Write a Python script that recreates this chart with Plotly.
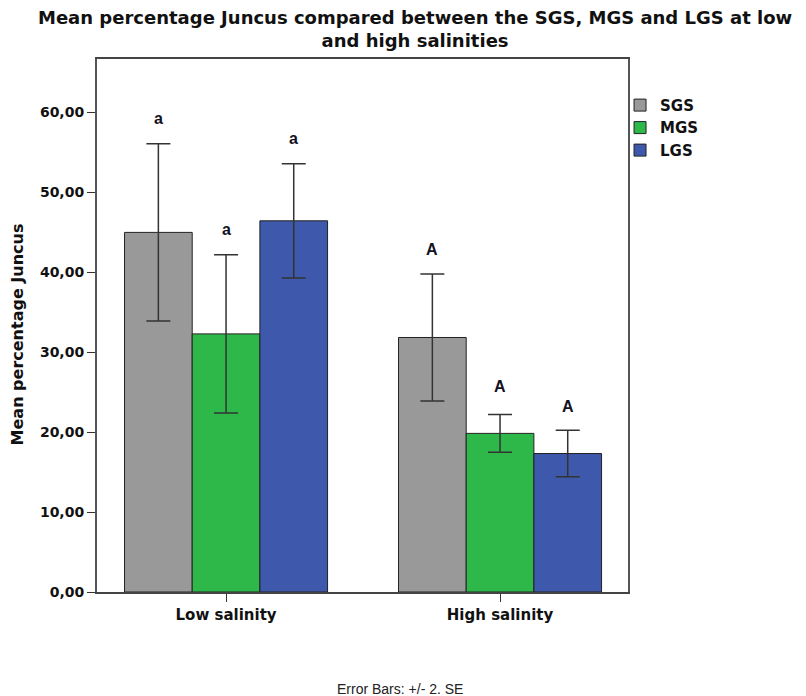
import plotly.graph_objects as go

categories = ["Low salinity", "High salinity"]
groups = ["SGS", "MGS", "LGS"]
means = {
    "SGS": [45.0, 31.85],
    "MGS": [32.3, 19.85],
    "LGS": [46.45, 17.33],
}
errors = {
    "SGS": [11.1, 7.95],
    "MGS": [9.9, 2.35],
    "LGS": [7.15, 2.9],
}
letters = {
    "SGS": ["a", "A"],
    "MGS": ["a", "A"],
    "LGS": ["a", "A"],
}
letter_y = {
    "SGS": [59.3, 42.9],
    "MGS": [45.4, 25.7],
    "LGS": [56.8, 23.2],
}
colors = {"SGS": "#999999", "MGS": "#2fb84a", "LGS": "#3e59ab"}
y_ticks = [0, 10, 20, 30, 40, 50, 60]
y_ticktext = ["0,00", "10,00", "20,00", "30,00", "40,00", "50,00", "60,00"]

FONT = "Liberation Sans, Arial, sans-serif"
BFONT = "DejaVu Sans, Verdana, sans-serif"

fig = go.Figure()
xpos = list(range(len(categories)))
for g in groups:
    fig.add_trace(go.Bar(
        name="<b>%s</b>" % g, x=xpos, y=means[g],
        marker=dict(color=colors[g], line=dict(color="#222222", width=1)),
        error_y=dict(type="data", array=errors[g], visible=True,
                     color="#333333", thickness=1.5, width=12),
    ))

bar_w = (1 - 0.259) / len(groups)
for gi, g in enumerate(groups):
    off = (gi - 1) * bar_w
    for ci in range(len(categories)):
        fig.add_annotation(x=ci + off, y=letter_y[g][ci], xref="x", yref="y",
                           text="<b>%s</b>" % letters[g][ci], showarrow=False,
                           font=dict(family=FONT, size=16, color="#111122"))

fig.add_annotation(x=0.57, y=-0.2, xref="paper", yref="paper",
                   text="Error Bars: +/- 2. SE", showarrow=False,
                   font=dict(family=FONT, size=14, color="#222222"))

fig.add_annotation(x=0.599, y=1.056, xref="paper", yref="paper",
                   xanchor="center", yanchor="middle",
                   text="<b>Mean percentage Juncus compared between the SGS, MGS and LGS at low<br>and high salinities</b>",
                   showarrow=False,
                   font=dict(family=BFONT, size=18, color="#111111"))

fig.add_annotation(x=-0.149, y=0.483, xref="paper", yref="paper",
                   xanchor="center", yanchor="middle", textangle=-90,
                   text="<b>Mean percentage Juncus</b>", showarrow=False,
                   font=dict(family=BFONT, size=16, color="#111111"))

fig.update_layout(
    width=806, height=696,
    paper_bgcolor="white", plot_bgcolor="white",
    margin=dict(l=97, r=178, t=59, b=104),
    barmode="group", bargap=0.259, bargroupgap=0,
    legend=dict(x=0.985, xanchor="left", y=0.944, yanchor="top",
                font=dict(family=BFONT, size=15, color="#111111"),
                itemwidth=30, tracegroupgap=0, bgcolor="rgba(0,0,0,0)"),
    showlegend=True,
)
fig.update_xaxes(
    range=[-0.471, 1.467], tickmode="array", tickvals=xpos, ticktext=["<b>%s</b>" % c for c in categories],
    ticks="outside", ticklen=8, tickcolor="#333333",
    showline=True, linecolor="#444444", linewidth=2, mirror=True,
    showgrid=False, zeroline=False,
    tickfont=dict(family=BFONT, size=15, color="#111111"),
)
fig.update_yaxes(
    range=[0, 66.7], tickmode="array", tickvals=y_ticks, ticktext=["<b>%s</b>" % t for t in y_ticktext],
    ticks="outside", ticklen=8, tickcolor="#333333",
    showline=True, linecolor="#555555", linewidth=2, mirror=True,
    showgrid=False, zeroline=False,
    tickfont=dict(family=BFONT, size=14, color="#111111"),
)

fig.write_html("out.html")
